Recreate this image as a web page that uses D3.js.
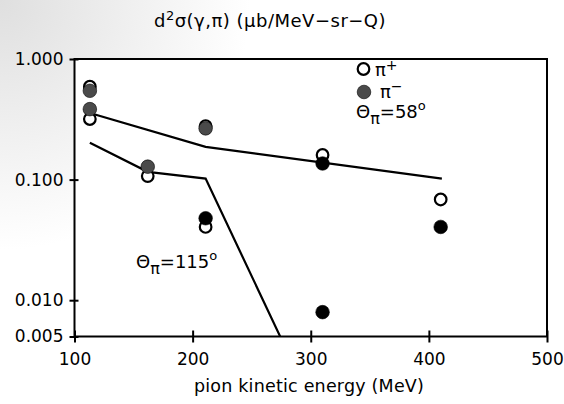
<!DOCTYPE html>
<html>
<head>
<meta charset="utf-8">
<script src="https://cdn.jsdelivr.net/npm/d3@7"></script>
<style>
  html, body { margin: 0; padding: 0; background: #fff; }
  svg { display: block; font-family: "DejaVu Sans", sans-serif; }
</style>
</head>
<body>
<svg id="chart" width="564" height="404"></svg>
<script>
// Pion photoproduction double-differential cross sections, d²σ(γ,π)
// Measured points at two pion angles, plus model curves.
const energies58 = [113, 211, 310, 410];
const piPlus58   = [0.589, 0.278, 0.160, 0.0684];
const piMinus58  = [0.545, 0.266, 0.136, 0.0405];

const energies115 = [113, 162, 211, 310];
const piPlus115   = [0.318, 0.107, 0.0405, null];
const piMinus115  = [0.384, 0.128, 0.0478, 0.00796];

const curve58Energy  = [113, 211, 411];
const curve58Value   = [0.357, 0.187, 0.102];
const curve115Energy = [113, 162, 211, 310];
const curve115Value  = [0.202, 0.116, 0.102, 0.0009];

const xTicks = [100, 200, 300, 400, 500];
const yTicks = [1, 0.1, 0.01, 0.005];
const yTickLabels = ["1.000", "0.100", "0.010", "0.005"];

const svg = d3.select("#chart");
const plotL = 74.5, plotR = 547, plotT = 59, plotB = 336.5;

// faint grain of the old print, upper-left corner
const defs = svg.append("defs");
const haze = defs.append("radialGradient").attr("id", "haze")
  .attr("gradientUnits", "userSpaceOnUse").attr("cx", 0).attr("cy", 0).attr("r", 250);
haze.append("stop").attr("offset", "0%").attr("stop-color", "#dfdfdf");
haze.append("stop").attr("offset", "50%").attr("stop-color", "#efefef");
haze.append("stop").attr("offset", "100%").attr("stop-color", "#ffffff");
svg.append("rect").attr("x", 0).attr("y", 0).attr("width", 564).attr("height", 404)
  .attr("fill", "url(#haze)");
svg.append("rect").attr("x", plotL).attr("y", plotT).attr("width", plotR - plotL).attr("height", plotB - plotT)
  .attr("fill", "#fff");

defs.append("clipPath").attr("id", "plotClip")
  .append("rect").attr("x", plotL).attr("y", plotT).attr("width", plotR - plotL).attr("height", plotB - plotT);

const x = d3.scaleLinear().domain([100, 500]).range([plotL, plotR]);
const y = d3.scaleLog().domain([0.005, 1]).range([plotB, plotT]);

// axes
const yAxis = d3.axisLeft(y).tickValues(yTicks)
  .tickFormat((d, i) => yTickLabels[i]).tickSizeOuter(0).tickSize(5).tickPadding(6);
const gy = svg.append("g").attr("transform", `translate(${plotL},0)`).call(yAxis);
gy.select(".domain").remove();
gy.selectAll(".tick line").attr("x1", 4).attr("x2", -5).attr("stroke", "#000").attr("stroke-width", 2);
gy.selectAll(".tick text").attr("font-size", 17).attr("fill", "#000")
  .attr("font-family", "DejaVu Sans, sans-serif");

const xAxis = d3.axisBottom(x).tickValues(xTicks).tickFormat(d3.format("d"))
  .tickSizeOuter(0).tickSize(6).tickPadding(10);
const gx = svg.append("g").attr("transform", `translate(0,${plotB})`).call(xAxis);
gx.select(".domain").remove();
gx.selectAll(".tick line").attr("y1", -6).attr("y2", 6).attr("stroke", "#000").attr("stroke-width", 2);
gx.selectAll(".tick text").attr("font-size", 17).attr("fill", "#000")
  .attr("font-family", "DejaVu Sans, sans-serif");

// frame
svg.append("rect").attr("x", plotL).attr("y", plotT).attr("width", plotR - plotL).attr("height", plotB - plotT)
  .attr("fill", "none").attr("stroke", "#000").attr("stroke-width", 2);

// model curves
const line = d3.line().x(d => x(d[0])).y(d => y(d[1]));
const curves = svg.append("g").attr("clip-path", "url(#plotClip)");
curves.append("path").datum(d3.zip(curve58Energy, curve58Value))
  .attr("d", line).attr("fill", "none").attr("stroke", "#000").attr("stroke-width", 2.2);
curves.append("path").datum(d3.zip(curve115Energy, curve115Value))
  .attr("d", line).attr("fill", "none").attr("stroke", "#000").attr("stroke-width", 2.2);

// measured points: open circles π+, filled circles π−
const r = 6.8;
const pts = svg.append("g");
function openPoints(es, vs) {
  pts.selectAll(null).data(d3.zip(es, vs).filter(d => d[1] != null)).join("circle")
    .attr("cx", d => x(d[0])).attr("cy", d => y(d[1])).attr("r", r - 1)
    .attr("fill", "#fff").attr("stroke", "#000").attr("stroke-width", 2.2);
}
function filledPoints(es, vs, shade) {
  pts.selectAll(null).data(d3.zip(es, vs).map((d, i) => [d[0], d[1], i]).filter(d => d[1] != null)).join("circle")
    .attr("cx", d => x(d[0])).attr("cy", d => y(d[1])).attr("r", r)
    .attr("fill", d => shade(d[2])).attr("stroke", "#000").attr("stroke-width", 0.6);
}
// lighter halftone on the low-energy π− points, solid black at higher energies
openPoints(energies58, piPlus58);
openPoints(energies115, piPlus115);
filledPoints(energies58, piMinus58, i => i < 2 ? "#4a4a4a" : "#000");
filledPoints(energies115, piMinus115, i => i < 2 ? "#4a4a4a" : "#000");

// legend
const leg = svg.append("g").attr("font-size", 18).attr("fill", "#000");
leg.append("circle").attr("cx", 363.5).attr("cy", 69).attr("r", r - 1)
  .attr("fill", "#fff").attr("stroke", "#000").attr("stroke-width", 2.2);
const t1 = leg.append("text").attr("x", 375).attr("y", 76);
t1.append("tspan").text("π");
t1.append("tspan").attr("dy", -6).attr("font-size", 14).text("+");
leg.append("circle").attr("cx", 364).attr("cy", 92).attr("r", r)
  .attr("fill", "#4a4a4a").attr("stroke", "#000").attr("stroke-width", 0.6);
const t2 = leg.append("text").attr("x", 380).attr("y", 98);
t2.append("tspan").text("π");
t2.append("tspan").attr("dy", -7).attr("font-size", 14).text("−");
const t3 = leg.append("text").attr("x", 356).attr("y", 118);
t3.append("tspan").text("Θ");
t3.append("tspan").attr("dy", 6).attr("font-size", 16).text("π");
t3.append("tspan").attr("dy", -6).text("=58");
t3.append("tspan").attr("dy", -8).attr("font-size", 13).text("o");

const t4 = svg.append("text").attr("x", 136).attr("y", 268).attr("font-size", 18).attr("fill", "#000");
t4.append("tspan").text("Θ");
t4.append("tspan").attr("dy", 6).attr("font-size", 16).text("π");
t4.append("tspan").attr("dy", -6).text("=115");
t4.append("tspan").attr("dy", -8).attr("font-size", 13).text("o");

// title and axis label
const title = svg.append("text").attr("x", 270).attr("y", 27).attr("text-anchor", "middle")
  .attr("font-size", 18).attr("letter-spacing", 0.5).attr("fill", "#000");
title.append("tspan").text("d");
title.append("tspan").attr("dy", -7).attr("font-size", 13).text("2");
title.append("tspan").attr("dy", 7).text("σ(γ,π) (μb/MeV−sr−Q)");

svg.append("text").attr("x", 309).attr("y", 392).attr("text-anchor", "middle")
  .attr("font-size", 17.5).attr("letter-spacing", 0.2).attr("fill", "#000").text("pion kinetic energy (MeV)");
</script>
</body>
</html>
